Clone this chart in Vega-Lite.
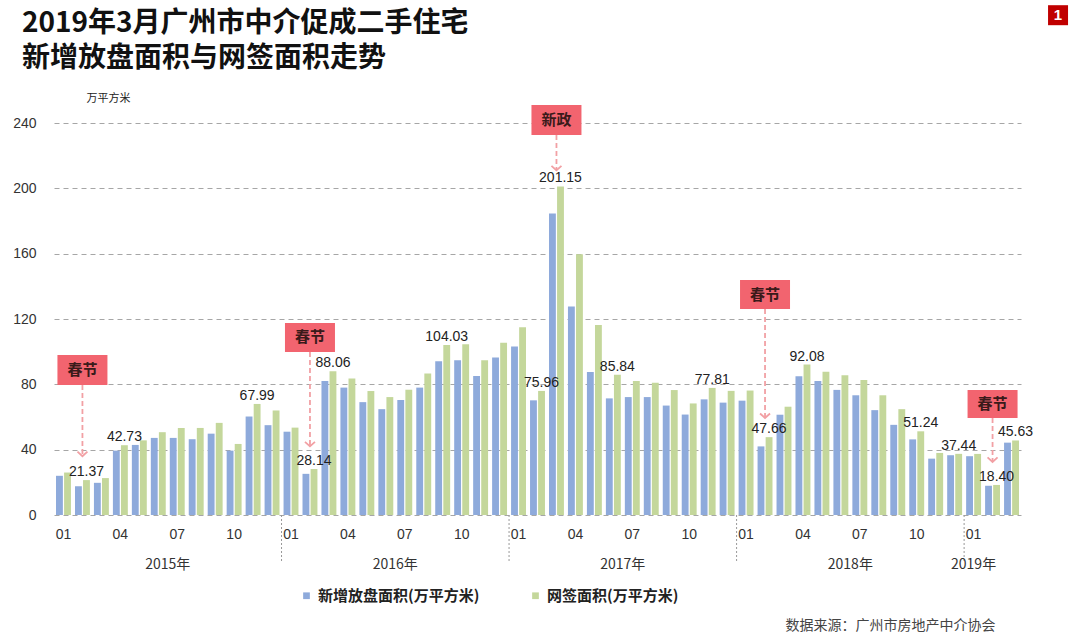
{
  "$schema": "https://vega.github.io/schema/vega-lite/v6.json",
  "autosize": {"type": "none"},
  "width": 967,
  "height": 392,
  "padding": {"left": 54, "top": 123, "right": 59, "bottom": 125},
  "background": "white",
  "config": {"view": {"stroke": null}, "font": "Noto Sans CJK SC"},
  "title": {
    "text": ["2019年3月广州市中介促成二手住宅", "新增放盘面积与网签面积走势"],
    "anchor": "start", "frame": "group", "dx": -32, "offset": -68,
    "fontSize": 28, "fontWeight": "bold", "color": "#111", "lineHeight": 35,
    "font": "Noto Sans CJK SC"
  },
  "datasets": {
    "main": [
      {"m": "2015-01", "s": "新增放盘面积(万平方米)", "v": 24},
      {"m": "2015-01", "s": "网签面积(万平方米)", "v": 26},
      {"m": "2015-02", "s": "新增放盘面积(万平方米)", "v": 17.6},
      {"m": "2015-02", "s": "网签面积(万平方米)", "v": 21.37, "lab": "21.37"},
      {"m": "2015-03", "s": "新增放盘面积(万平方米)", "v": 19.7},
      {"m": "2015-03", "s": "网签面积(万平方米)", "v": 22.6},
      {"m": "2015-04", "s": "新增放盘面积(万平方米)", "v": 39.4},
      {"m": "2015-04", "s": "网签面积(万平方米)", "v": 42.73, "lab": "42.73"},
      {"m": "2015-05", "s": "新增放盘面积(万平方米)", "v": 42.9},
      {"m": "2015-05", "s": "网签面积(万平方米)", "v": 45.7},
      {"m": "2015-06", "s": "新增放盘面积(万平方米)", "v": 47.2},
      {"m": "2015-06", "s": "网签面积(万平方米)", "v": 50.7},
      {"m": "2015-07", "s": "新增放盘面积(万平方米)", "v": 47.2},
      {"m": "2015-07", "s": "网签面积(万平方米)", "v": 53.3},
      {"m": "2015-08", "s": "新增放盘面积(万平方米)", "v": 46.4},
      {"m": "2015-08", "s": "网签面积(万平方米)", "v": 53.3},
      {"m": "2015-09", "s": "新增放盘面积(万平方米)", "v": 49.8},
      {"m": "2015-09", "s": "网签面积(万平方米)", "v": 56.4},
      {"m": "2015-10", "s": "新增放盘面积(万平方米)", "v": 39.4},
      {"m": "2015-10", "s": "网签面积(万平方米)", "v": 43.5},
      {"m": "2015-11", "s": "新增放盘面积(万平方米)", "v": 60.3},
      {"m": "2015-11", "s": "网签面积(万平方米)", "v": 67.99, "lab": "67.99"},
      {"m": "2015-12", "s": "新增放盘面积(万平方米)", "v": 55},
      {"m": "2015-12", "s": "网签面积(万平方米)", "v": 64},
      {"m": "2016-01", "s": "新增放盘面积(万平方米)", "v": 51},
      {"m": "2016-01", "s": "网签面积(万平方米)", "v": 53.5},
      {"m": "2016-02", "s": "新增放盘面积(万平方米)", "v": 25.2},
      {"m": "2016-02", "s": "网签面积(万平方米)", "v": 28.14, "lab": "28.14"},
      {"m": "2016-03", "s": "新增放盘面积(万平方米)", "v": 82},
      {"m": "2016-03", "s": "网签面积(万平方米)", "v": 88.06, "lab": "88.06"},
      {"m": "2016-04", "s": "新增放盘面积(万平方米)", "v": 78},
      {"m": "2016-04", "s": "网签面积(万平方米)", "v": 83.5},
      {"m": "2016-05", "s": "新增放盘面积(万平方米)", "v": 69.1},
      {"m": "2016-05", "s": "网签面积(万平方米)", "v": 75.9},
      {"m": "2016-06", "s": "新增放盘面积(万平方米)", "v": 64.8},
      {"m": "2016-06", "s": "网签面积(万平方米)", "v": 72.2},
      {"m": "2016-07", "s": "新增放盘面积(万平方米)", "v": 70.4},
      {"m": "2016-07", "s": "网签面积(万平方米)", "v": 76.7},
      {"m": "2016-08", "s": "新增放盘面积(万平方米)", "v": 78},
      {"m": "2016-08", "s": "网签面积(万平方米)", "v": 86.6},
      {"m": "2016-09", "s": "新增放盘面积(万平方米)", "v": 94.2},
      {"m": "2016-09", "s": "网签面积(万平方米)", "v": 104.03, "lab": "104.03"},
      {"m": "2016-10", "s": "新增放盘面积(万平方米)", "v": 94.8},
      {"m": "2016-10", "s": "网签面积(万平方米)", "v": 104.6},
      {"m": "2016-11", "s": "新增放盘面积(万平方米)", "v": 85.1},
      {"m": "2016-11", "s": "网签面积(万平方米)", "v": 94.8},
      {"m": "2016-12", "s": "新增放盘面积(万平方米)", "v": 96.4},
      {"m": "2016-12", "s": "网签面积(万平方米)", "v": 105.4},
      {"m": "2017-01", "s": "新增放盘面积(万平方米)", "v": 103.2},
      {"m": "2017-01", "s": "网签面积(万平方米)", "v": 114.9},
      {"m": "2017-02", "s": "新增放盘面积(万平方米)", "v": 70.2},
      {"m": "2017-02", "s": "网签面积(万平方米)", "v": 75.96, "lab": "75.96"},
      {"m": "2017-03", "s": "新增放盘面积(万平方米)", "v": 184.6},
      {"m": "2017-03", "s": "网签面积(万平方米)", "v": 201.15, "lab": "201.15"},
      {"m": "2017-04", "s": "新增放盘面积(万平方米)", "v": 127.6},
      {"m": "2017-04", "s": "网签面积(万平方米)", "v": 159.6},
      {"m": "2017-05", "s": "新增放盘面积(万平方米)", "v": 87.6},
      {"m": "2017-05", "s": "网签面积(万平方米)", "v": 116.3},
      {"m": "2017-06", "s": "新增放盘面积(万平方米)", "v": 71.4},
      {"m": "2017-06", "s": "网签面积(万平方米)", "v": 85.84, "lab": "85.84"},
      {"m": "2017-07", "s": "新增放盘面积(万平方米)", "v": 72.2},
      {"m": "2017-07", "s": "网签面积(万平方米)", "v": 82},
      {"m": "2017-08", "s": "新增放盘面积(万平方米)", "v": 72.2},
      {"m": "2017-08", "s": "网签面积(万平方米)", "v": 81},
      {"m": "2017-09", "s": "新增放盘面积(万平方米)", "v": 67},
      {"m": "2017-09", "s": "网签面积(万平方米)", "v": 76.5},
      {"m": "2017-10", "s": "新增放盘面积(万平方米)", "v": 61.5},
      {"m": "2017-10", "s": "网签面积(万平方米)", "v": 68.3},
      {"m": "2017-11", "s": "新增放盘面积(万平方米)", "v": 70.8},
      {"m": "2017-11", "s": "网签面积(万平方米)", "v": 77.81, "lab": "77.81"},
      {"m": "2017-12", "s": "新增放盘面积(万平方米)", "v": 68.8},
      {"m": "2017-12", "s": "网签面积(万平方米)", "v": 76},
      {"m": "2018-01", "s": "新增放盘面积(万平方米)", "v": 70},
      {"m": "2018-01", "s": "网签面积(万平方米)", "v": 76.2},
      {"m": "2018-02", "s": "新增放盘面积(万平方米)", "v": 42},
      {"m": "2018-02", "s": "网签面积(万平方米)", "v": 47.66, "lab": "47.66"},
      {"m": "2018-03", "s": "新增放盘面积(万平方米)", "v": 61.4},
      {"m": "2018-03", "s": "网签面积(万平方米)", "v": 66.3},
      {"m": "2018-04", "s": "新增放盘面积(万平方米)", "v": 85},
      {"m": "2018-04", "s": "网签面积(万平方米)", "v": 92.08, "lab": "92.08"},
      {"m": "2018-05", "s": "新增放盘面积(万平方米)", "v": 82},
      {"m": "2018-05", "s": "网签面积(万平方米)", "v": 87.7},
      {"m": "2018-06", "s": "新增放盘面积(万平方米)", "v": 76.6},
      {"m": "2018-06", "s": "网签面积(万平方米)", "v": 85.5},
      {"m": "2018-07", "s": "新增放盘面积(万平方米)", "v": 73.3},
      {"m": "2018-07", "s": "网签面积(万平方米)", "v": 82.6},
      {"m": "2018-08", "s": "新增放盘面积(万平方米)", "v": 64.2},
      {"m": "2018-08", "s": "网签面积(万平方米)", "v": 73.3},
      {"m": "2018-09", "s": "新增放盘面积(万平方米)", "v": 55.2},
      {"m": "2018-09", "s": "网签面积(万平方米)", "v": 64.8},
      {"m": "2018-10", "s": "新增放盘面积(万平方米)", "v": 46.3},
      {"m": "2018-10", "s": "网签面积(万平方米)", "v": 51.24, "lab": "51.24"},
      {"m": "2018-11", "s": "新增放盘面积(万平方米)", "v": 34.5},
      {"m": "2018-11", "s": "网签面积(万平方米)", "v": 38},
      {"m": "2018-12", "s": "新增放盘面积(万平方米)", "v": 36.6},
      {"m": "2018-12", "s": "网签面积(万平方米)", "v": 37.44, "lab": "37.44"},
      {"m": "2019-01", "s": "新增放盘面积(万平方米)", "v": 36},
      {"m": "2019-01", "s": "网签面积(万平方米)", "v": 37.4},
      {"m": "2019-02", "s": "新增放盘面积(万平方米)", "v": 17.9},
      {"m": "2019-02", "s": "网签面积(万平方米)", "v": 18.4, "lab": "18.40"},
      {"m": "2019-03", "s": "新增放盘面积(万平方米)", "v": 44.3},
      {"m": "2019-03", "s": "网签面积(万平方米)", "v": 45.63, "lab": "45.63"}
    ],
    "years": [
      {"m": "2015-06", "t": "2015年"},
      {"m": "2016-06", "t": "2016年"},
      {"m": "2017-06", "t": "2017年"},
      {"m": "2018-06", "t": "2018年"}
    ],
    "years2": [
      {"m": "2019-01", "t": "2019年"}
    ],
    "seps": [
      {"m": "2016-01"}, {"m": "2017-01"}, {"m": "2018-01"}, {"m": "2019-01"}
    ],
    "notes": [
      {"m": "2015-02", "t": "春节", "top": 98, "bot": 79.6, "mid": 88.8, "tip": 36},
      {"m": "2016-02", "t": "春节", "top": 117.6, "bot": 99.8, "mid": 108.7, "tip": 42},
      {"m": "2017-03", "t": "新政", "top": 251, "bot": 232.7, "mid": 241.9, "tip": 211},
      {"m": "2018-02", "t": "春节", "top": 143.9, "bot": 126.1, "mid": 135, "tip": 59.4},
      {"m": "2019-02", "t": "春节", "top": 76.5, "bot": 59.4, "mid": 68, "tip": 32.5}
    ],
    "badge": [{"m": "2019-03", "t": "1", "y": 306}]
  },
  "encoding": {
    "x": {
      "field": "m", "type": "ordinal", "sort": "ascending",
      "scale": {"type": "band", "paddingInner": 0, "paddingOuter": 0},
      "title": "数据来源：广州市房地产中介协会",
      "axis": {
        "labelExpr": "indexof(['01','04','07','10'], slice(datum.value, 5)) >= 0 ? slice(datum.value, 5) : ''",
        "labelAngle": 0, "ticks": false, "domain": false, "labelPadding": 12,
        "labelFontSize": 14, "labelColor": "#333", "labelFont": "Liberation Sans",
        "labelOverlap": false, "labelBaseline": "top",
        "titleX": 941, "titleY": 110, "titleAlign": "right", "titleBaseline": "middle",
        "titleFontSize": 14, "titleFontWeight": "normal", "titleColor": "#444",
        "titleFont": "Noto Sans CJK SC"
      }
    }
  },
  "layer": [
    {
      "data": {"name": "main"},
      "mark": {"type": "bar"},
      "encoding": {
        "xOffset": {"field": "s", "type": "nominal", "sort": ["新增放盘面积(万平方米)", "网签面积(万平方米)"],
          "scale": {"paddingInner": 0.15, "paddingOuter": 0.25}},
        "y": {
          "field": "v", "type": "quantitative",
          "scale": {"domain": [0, 240], "nice": false, "zero": true},
          "title": "万平方米",
          "axis": {
            "values": [0, 40, 80, 120, 160, 200, 240],
            "grid": true, "gridDash": [5, 4], "gridColor": "#A6A6A6", "gridWidth": 1,
            "domain": false, "ticks": false, "labelPadding": 18,
            "labelFontSize": 14, "labelColor": "#333", "labelFont": "Liberation Sans",
            "titleAngle": 0, "titleX": 32, "titleY": -25, "titleAlign": "left",
            "titleBaseline": "middle", "titleFontSize": 11, "titleFontWeight": "normal",
            "titleColor": "#222", "titleFont": "Noto Sans CJK SC"
          }
        },
        "color": {
          "field": "s", "type": "nominal",
          "scale": {"domain": ["新增放盘面积(万平方米)", "网签面积(万平方米)"], "range": ["#8EAADB", "#C4D79B"]},
          "legend": {
            "title": null, "orient": "none", "direction": "horizontal",
            "legendX": 245, "legendY": 465, "padding": 0,
            "symbolType": "square", "symbolSize": 45, "symbolStrokeWidth": 0,
            "labelFontSize": 15, "labelFontWeight": "bold", "labelColor": "#222",
            "labelFont": "Noto Sans CJK SC", "columnPadding": 48, "labelOffset": 4,
            "labelLimit": 400
          }
        }
      }
    },
    {
      "data": {"name": "main"},
      "transform": [{"filter": "isValid(datum.lab)"}],
      "mark": {"type": "text", "baseline": "bottom", "dy": -1, "fontSize": 14, "color": "#222", "font": "Liberation Sans"},
      "encoding": {
        "xOffset": {"field": "s", "type": "nominal", "sort": ["新增放盘面积(万平方米)", "网签面积(万平方米)"]},
        "y": {"field": "v", "type": "quantitative", "scale": {"domain": [0, 240], "nice": false}, "title": "万平方米"},
        "text": {"field": "lab"}
      }
    },
    {
      "data": {"name": "seps"},
      "mark": {"type": "rule", "color": "#999", "strokeDash": [2, 2], "strokeWidth": 1},
      "encoding": {
        "x": {"field": "m", "type": "ordinal", "bandPosition": 0},
        "y": {"datum": 0, "type": "quantitative", "scale": {"domain": [0, 240], "nice": false}, "title": "万平方米"},
        "y2": {"datum": -29}
      }
    },
    {
      "data": {"name": "years"},
      "mark": {"type": "text", "fontSize": 14, "color": "#333", "baseline": "middle", "font": "Noto Sans CJK SC"},
      "encoding": {
        "x": {"field": "m", "type": "ordinal", "bandPosition": 1},
        "y": {"datum": -30.6, "type": "quantitative", "scale": {"domain": [0, 240], "nice": false}, "title": "万平方米"},
        "text": {"field": "t"}
      }
    },
    {
      "data": {"name": "years2"},
      "mark": {"type": "text", "fontSize": 14, "color": "#333", "baseline": "middle", "font": "Noto Sans CJK SC"},
      "encoding": {
        "y": {"datum": -30.6, "type": "quantitative", "scale": {"domain": [0, 240], "nice": false}, "title": "万平方米"},
        "text": {"field": "t"}
      }
    },
    {
      "data": {"name": "notes"},
      "mark": {"type": "rule", "color": "#F2A0A4", "strokeDash": [5, 3], "strokeWidth": 1.8},
      "encoding": {
        "y": {"field": "bot", "type": "quantitative", "scale": {"domain": [0, 240], "nice": false}, "title": "万平方米"},
        "y2": {"field": "tip"}
      }
    },
    {
      "data": {"name": "notes"},
      "mark": {"type": "point", "shape": "M-1,-0.9L0,0L1,-0.9", "filled": false, "size": 100, "color": "#F2A0A4", "strokeWidth": 1.8, "opacity": 1},
      "encoding": {
        "y": {"field": "tip", "type": "quantitative", "scale": {"domain": [0, 240], "nice": false}, "title": "万平方米"}
      }
    },
    {
      "data": {"name": "notes"},
      "mark": {"type": "bar", "width": 50, "color": "#F2646F"},
      "encoding": {
        "y": {"field": "top", "type": "quantitative", "scale": {"domain": [0, 240], "nice": false}, "title": "万平方米"},
        "y2": {"field": "bot"}
      }
    },
    {
      "data": {"name": "notes"},
      "mark": {"type": "text", "fontSize": 15, "fontWeight": "bold", "color": "#3A1A1A", "baseline": "middle", "font": "Noto Sans CJK SC"},
      "encoding": {
        "y": {"field": "mid", "type": "quantitative", "scale": {"domain": [0, 240], "nice": false}, "title": "万平方米"},
        "text": {"field": "t"}
      }
    },
    {
      "data": {"name": "badge"},
      "mark": {"type": "point", "shape": "square", "filled": true, "size": 400, "color": "#C00000", "opacity": 1},
      "encoding": {
        "xOffset": {"value": 56},
        "y": {"field": "y", "type": "quantitative", "scale": {"domain": [0, 240], "nice": false}, "title": "万平方米"}
      }
    },
    {
      "data": {"name": "badge"},
      "mark": {"type": "text", "fontSize": 15, "fontWeight": "bold", "color": "white", "baseline": "middle", "font": "Liberation Sans"},
      "encoding": {
        "xOffset": {"value": 56},
        "y": {"field": "y", "type": "quantitative", "scale": {"domain": [0, 240], "nice": false}, "title": "万平方米"},
        "text": {"field": "t"}
      }
    }
  ]
}
